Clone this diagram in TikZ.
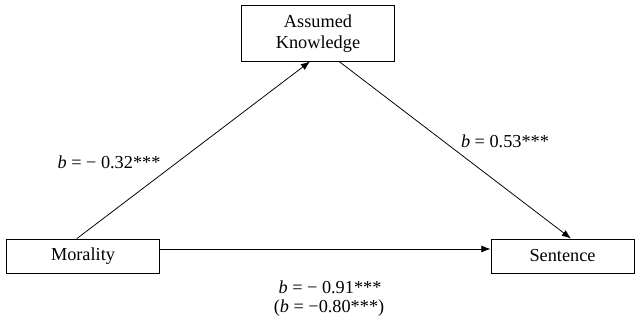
\documentclass[tikz,border=0pt]{standalone}
\usepackage{fontspec}
\setmainfont{Liberation Serif}
\usepackage{tikz}
\usetikzlibrary{arrows.meta}

\begin{document}
\begin{tikzpicture}[x=0.025cm,y=-0.025cm,
  every node/.style={font=\fontsize{13}{15}\selectfont},
  varbox/.style={draw,line width=0.7pt,align=center,inner sep=0pt},
  arr/.style={line width=0.55pt,-{Latex[length=6.5pt,width=5pt]}}]
\useasboundingbox (0,0) rectangle (635,320);
\node[varbox,minimum width=3.8cm,minimum height=1.375cm] (ak) at (318,33.5) {Assumed\\Knowledge};
\node[varbox,minimum width=3.8cm,minimum height=0.85cm] (mor) at (83,256) {Morality};
\node[varbox,minimum width=3.575cm,minimum height=0.85cm] (sen) at (562.5,256) {Sentence};
\draw[arr] ([xshift=-4.3pt]mor.north) -- ([xshift=-5.7pt]ak.south);
\draw[arr] ([xshift=15pt]ak.south) -- ([xshift=6pt]sen.north);
\draw[arr] ([yshift=5pt]mor.east) -- ([yshift=5pt]sen.west);
\node (lma) at (109,162) {\textit{b} = − 0.32***};
\node (lkb) at (505,141) {\textit{b} = 0.53***};
\node (lc) at (330,287) {\textit{b} = − 0.91***};
\node (lcp) at (329,308) {(\textit{b} = −0.80***)};
\end{tikzpicture}
\end{document}
